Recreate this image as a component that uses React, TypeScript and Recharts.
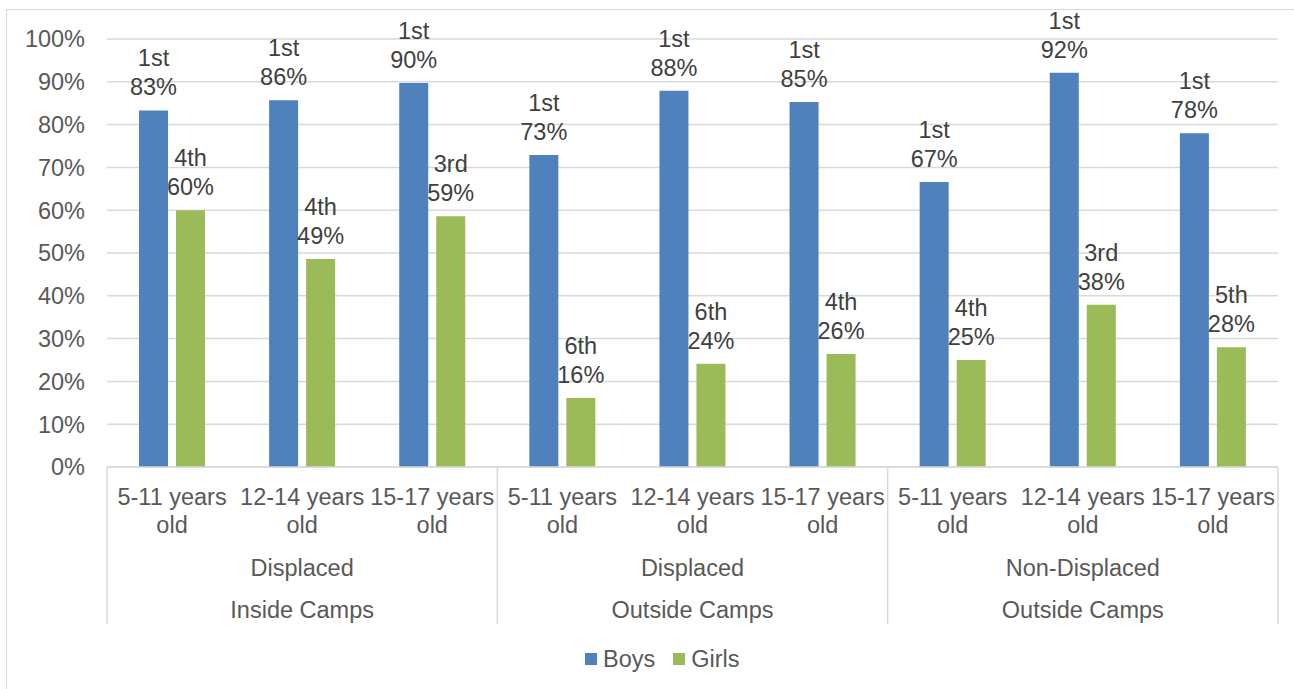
import React from 'react';
import { BarChart, Bar, XAxis, YAxis, CartesianGrid, LabelList } from 'recharts';

// Category levels of the multi-level axis
const ageGroups = ['5-11 years old', '12-14 years old', '15-17 years old'];
const populations = ['Displaced', 'Displaced', 'Non-Displaced'];
const locations = ['Inside Camps', 'Outside Camps', 'Outside Camps'];

// Share of children (%) per category, in axis order
const boysValues = [83.3, 85.7, 89.7, 72.9, 87.9, 85.3, 66.6, 92.1, 78.0];
const girlsValues = [60.0, 48.6, 58.6, 16.1, 24.1, 26.4, 25.0, 37.9, 28.0];

// Rank shown above each bar
const boysRanks = ['1st', '1st', '1st', '1st', '1st', '1st', '1st', '1st', '1st'];
const girlsRanks = ['4th', '4th', '3rd', '6th', '6th', '4th', '4th', '3rd', '5th'];

const yTicks = [0, 10, 20, 30, 40, 50, 60, 70, 80, 90, 100];

const SERIES = [
  { key: 'boys', name: 'Boys', color: '#4F81BD', ranks: boysRanks },
  { key: 'girls', name: 'Girls', color: '#9BBB59', ranks: girlsRanks },
];

const data = populations.flatMap((pop, g) =>
  ageGroups.map((age, a) => {
    const i = g * ageGroups.length + a;
    return {
      id: i,
      age,
      population: pop,
      location: locations[g],
      boys: boysValues[i],
      girls: girlsValues[i],
    };
  })
);

const WIDTH = 1294;
const HEIGHT = 689;
const MARGIN = { top: 39, right: 16, bottom: 62, left: 0 };
const Y_AXIS_WIDTH = 107;
const PLOT_W = WIDTH - MARGIN.left - MARGIN.right - Y_AXIS_WIDTH;
const BAND = PLOT_W / data.length;

const FONT = '"Liberation Sans", Arial, Helvetica, sans-serif';
const FS = 23.5;
const AXIS_TEXT = '#595959';
const LABEL_TEXT = '#404040';
const LINE = '#D9D9D9';

const splitAge = (s: string) => {
  const k = s.lastIndexOf(' ');
  return [s.slice(0, k), s.slice(k + 1)];
};

const CategoryTick = (props: any) => {
  const { x, y, payload } = props;
  const index: number = props.index ?? payload?.index ?? 0;
  const row = data[index];
  if (!row) return null;
  const [l1, l2] = splitAge(row.age);
  const perGroup = ageGroups.length;
  const sepH = 157;
  return (
    <g>
      <text x={x} y={y + 38} textAnchor="middle" fill={AXIS_TEXT} fontSize={FS} fontFamily={FONT}>
        {l1}
      </text>
      <text x={x} y={y + 66} textAnchor="middle" fill={AXIS_TEXT} fontSize={FS} fontFamily={FONT}>
        {l2}
      </text>
      {index % perGroup === 1 && (
        <>
          <text x={x} y={y + 109} textAnchor="middle" fill={AXIS_TEXT} fontSize={FS} fontFamily={FONT}>
            {row.population}
          </text>
          <text x={x} y={y + 151} textAnchor="middle" fill={AXIS_TEXT} fontSize={FS} fontFamily={FONT}>
            {row.location}
          </text>
        </>
      )}
      {index % perGroup === 0 && (
        <line x1={x - BAND / 2} x2={x - BAND / 2} y1={y} y2={y + sepH} stroke={LINE} strokeWidth={1.5} />
      )}
      {index === data.length - 1 && (
        <line x1={x + BAND / 2} x2={x + BAND / 2} y1={y} y2={y + sepH} stroke={LINE} strokeWidth={1.5} />
      )}
    </g>
  );
};

const makeLabel = (ranks: string[]) => (props: any) => {
  const { x, y, width, value, index } = props;
  const cx = Number(x) + Number(width) / 2;
  const top = Number(y);
  return (
    <text textAnchor="middle" fill={LABEL_TEXT} fontSize={FS} fontFamily={FONT}>
      <tspan x={cx} y={top - 44}>{ranks[index]}</tspan>
      <tspan x={cx} y={top - 15}>{`${Math.round(Number(value))}%`}</tspan>
    </text>
  );
};

export default function App() {
  return (
    <div
      style={{
        position: 'absolute',
        left: 0,
        top: 0,
        width: WIDTH,
        height: HEIGHT,
        overflow: 'hidden',
        background: '#FFFFFF',
        fontFamily: FONT,
      }}
    >
      <div
        style={{
          position: 'absolute',
          left: 6,
          top: 9,
          width: WIDTH + 100,
          height: HEIGHT + 100,
          borderLeft: `1.5px solid ${LINE}`,
          borderTop: `1.5px solid ${LINE}`,
        }}
      />
      <div style={{ position: 'absolute', left: 0, top: 0 }}>
        <BarChart width={WIDTH} height={HEIGHT} data={data} margin={MARGIN} barGap={8} barSize={29}>
          <CartesianGrid horizontal vertical={false} stroke={LINE} strokeWidth={1.5} />
          <XAxis
            dataKey="id"
            type="category"
            interval={0}
            height={160}
            axisLine={{ stroke: LINE, strokeWidth: 1.5 }}
            tickLine={false}
            tickSize={0}
            tickMargin={0}
            tick={<CategoryTick />}
          />
          <YAxis
            width={Y_AXIS_WIDTH}
            domain={[0, 100]}
            ticks={yTicks}
            interval={0}
            axisLine={false}
            tickLine={false}
            tickSize={0}
            tickMargin={22}
            tickFormatter={(v: number) => `${v}%`}
            tick={{ fill: AXIS_TEXT, fontSize: FS, fontFamily: FONT }}
          />
          {SERIES.map((s) => (
            <Bar key={s.key} dataKey={s.key} name={s.name} fill={s.color} isAnimationActive={false}>
              <LabelList dataKey={s.key} content={makeLabel(s.ranks)} />
            </Bar>
          ))}
        </BarChart>
      </div>
      <div
        style={{
          position: 'absolute',
          left: 585,
          top: 645,
          display: 'flex',
          alignItems: 'center',
          height: 28,
        }}
      >
        {SERIES.map((s, i) => (
          <div key={s.key} style={{ display: 'flex', alignItems: 'center', marginLeft: i === 0 ? 0 : 18 }}>
            <div style={{ width: 12, height: 12, background: s.color, marginRight: 6 }} />
            <span style={{ fontSize: FS, color: AXIS_TEXT, lineHeight: '28px' }}>{s.name}</span>
          </div>
        ))}
      </div>
    </div>
  );
}
